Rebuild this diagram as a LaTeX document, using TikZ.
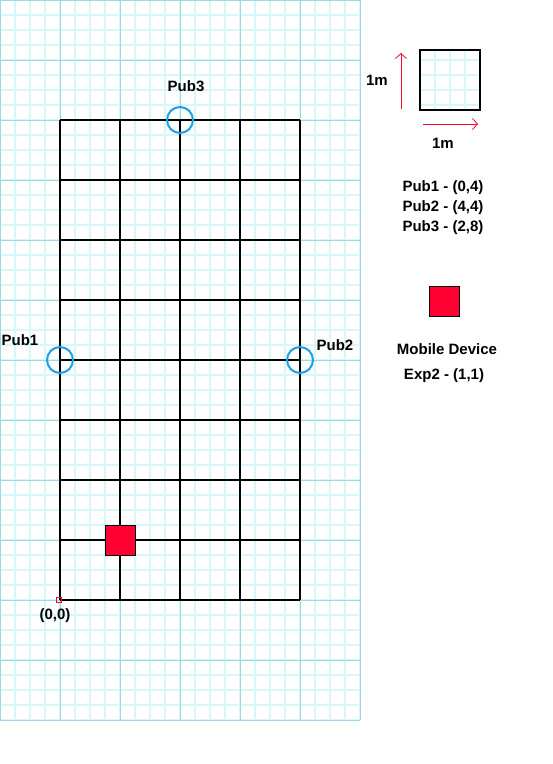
\documentclass[tikz,border=0pt]{standalone}
\usepackage{fontspec}
\setmainfont{Liberation Sans}
\usetikzlibrary{arrows.meta,positioning}
\definecolor{paperminor}{HTML}{D9F7F9}
\definecolor{papermajor}{HTML}{9ADAE3}
\definecolor{pubblue}{HTML}{1BA1E2}
\definecolor{devred}{HTML}{FF0033}

\begin{document}
\begin{tikzpicture}[x=60pt,y=60pt,
  lbl/.style={font=\fontsize{15}{20}\selectfont\bfseries, inner sep=1pt, align=center},
  pub/.style={circle, draw=pubblue, line width=2pt, minimum size=26pt, inner sep=0pt},
  device/.style={rectangle, draw=black, line width=0.8pt, fill=devred,
                 minimum size=30pt, inner sep=0pt},
  scalearr/.style={-{Straight Barb[length=5pt,width=11pt]}, devred, line width=0.8pt}
]
  \useasboundingbox (-1,-2.7333) rectangle (8.2,10);
  \fill[white] (-1,-2.7333) rectangle (8.2,10);

  %% Paper background
  \draw[paperminor, line width=1.3pt, step=15pt] (-1,-2) grid (5,10);
  \draw[papermajor, line width=0.8pt, step=60pt] (-1,-2) grid (5,10);

  %% Floor plan (4 x 8 m)
  \draw[line width=2pt, step=60pt] (0,0) grid (4,8);

  %% Publishers
  \node[pub] (pub1) at (0,4) {};
  \node[pub] (pub2) at (4,4) {};
  \node[pub] (pub3) at (2,8) {};
  \node[lbl] (pub1lbl) at (-0.667,4.333) {Pub1};
  \node[lbl] (pub2lbl) at (4.583,4.25) {Pub2};
  \node[lbl] (pub3lbl) at (2.1,8.567) {Pub3};

  %% Mobile device and origin
  \node[device] (exp2) at (1,1) {};
  \node[rectangle, draw=devred, line width=0.6pt, minimum size=5pt, inner sep=0pt] (origin) at (-0.02,0) {};
  \node[lbl] (originlbl) at (-0.083,-0.267) {(0,0)};

  %% Scale
  \draw[paperminor, line width=1.3pt, step=15pt] (6,8.167) grid (7,9.167);
  \draw[line width=2pt] (6,8.167) rectangle (7,9.167);
  \coordinate (vbot) at (5.683,8.183);
  \coordinate (vtop) at (5.683,9.117);
  \coordinate (hleft) at (6.05,7.933);
  \coordinate (hright) at (6.967,7.933);
  \draw[scalearr] (vbot) -- (vtop);
  \draw[scalearr] (hleft) -- (hright);
  \node[lbl] (vscale) at (5.283,8.667) {1m};
  \node[lbl] (hscale) at (6.383,7.617) {1m};

  %% Legend
  \node[lbl] (positions) at (6.383,6.533) {Pub1 - (0,4)\\Pub2 - (4,4)\\Pub3 - (2,8)};
  \node[device] (legenddev) at (6.4,4.983) {};
  \node[lbl] (devname) at (6.45,4.183) {Mobile Device};
  \node[lbl] (devpos) at (6.4,3.733) {Exp2 - (1,1)};

\end{tikzpicture}
\end{document}
